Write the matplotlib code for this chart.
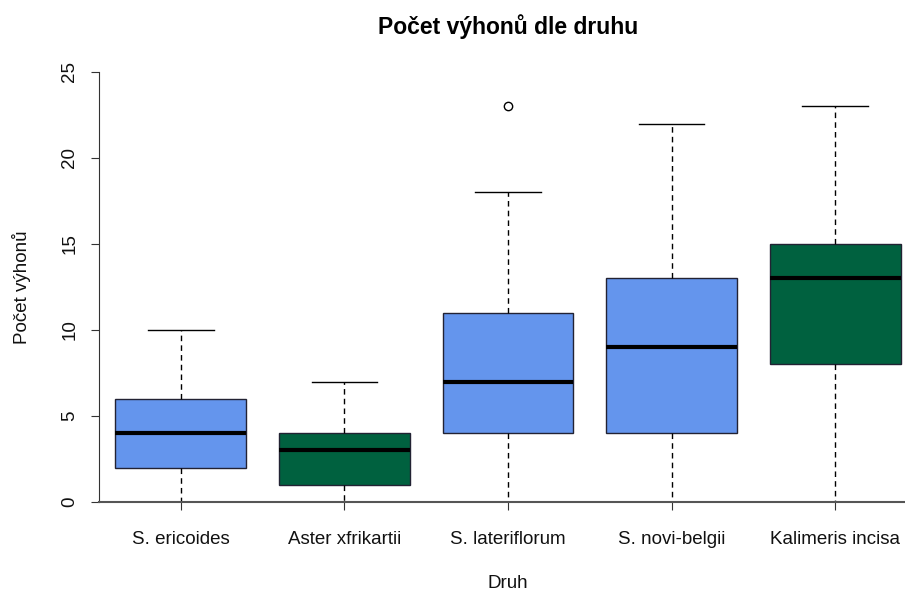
import numpy as np
import matplotlib.pyplot as plt

plt.rcParams['font.family'] = ['Liberation Sans', 'DejaVu Sans']

# data
species = ["S. ericoides", "Aster xfrikartii", "S. lateriflorum", "S. novi-belgii", "Kalimeris incisa"]
whislo = [0, 0, 0, 0, 0]
q1 = [2, 1, 4, 4, 8]
med = [4, 3, 7, 9, 13]
q3 = [6, 4, 11, 13, 15]
whishi = [10, 7, 18, 22, 23]
fliers = [[], [], [23], [], []]
colors = ["#6495ED", "#00613F", "#6495ED", "#6495ED", "#00613F"]

stats = []
for i in range(len(species)):
    stats.append(dict(label=species[i], whislo=whislo[i], q1=q1[i], med=med[i],
                      q3=q3[i], whishi=whishi[i], fliers=fliers[i]))

fig = plt.figure(figsize=(9.05, 5.91), dpi=100)
ax = fig.add_axes([99/905, (591-502)/591, (917-99)/905, (502-72)/591])

pos = np.arange(1, len(species) + 1)
bp = ax.bxp(stats, positions=pos, widths=0.8, patch_artist=True,
            boxprops=dict(edgecolor="#222233", linewidth=1.0),
            medianprops=dict(color="black", linewidth=3, solid_capstyle="butt"),
            whiskerprops=dict(color="black", linewidth=1.0, linestyle=(0, (4, 3))),
            capprops=dict(color="black", linewidth=1.0),
            flierprops=dict(marker="o", markersize=6, markerfacecolor="none",
                            markeredgecolor="black", markeredgewidth=1.0),
            capwidths=0.4)
for patch, c in zip(bp["boxes"], colors):
    patch.set_facecolor(c)

ax.set_xlim(0.5, 5.5)
ax.set_ylim(0, 25)
for s in ["top", "right"]:
    ax.spines[s].set_visible(False)
ax.spines["left"].set_bounds(0, 25)
ax.spines["left"].set_color("#333333")
ax.spines["bottom"].set_color("#555555")
ax.spines["bottom"].set_linewidth(1.5)

ax.set_yticks([0, 5, 10, 15, 20, 25])
ax.set_yticklabels(["0", "5", "10", "15", "20", "25"], rotation=90, va="center")
ax.set_xticks(pos)
ax.set_xticklabels(species)
ax.tick_params(axis="both", direction="out", length=6, labelsize=13.5, colors="#333333",
               labelcolor="#111111")
ax.tick_params(axis="x", pad=15)
ax.tick_params(axis="y", pad=9)

ax.set_xlabel("Druh", fontsize=13.5, labelpad=19, color="#111111")
ax.set_ylabel("Počet výhonů", fontsize=13.5, labelpad=22, color="#111111")
fig.text(508/905, 1 - 27/591, "Počet výhonů dle druhu", fontsize=16.5,
         fontweight="bold", ha="center", va="center")

fig.savefig("out.png", dpi=100)
